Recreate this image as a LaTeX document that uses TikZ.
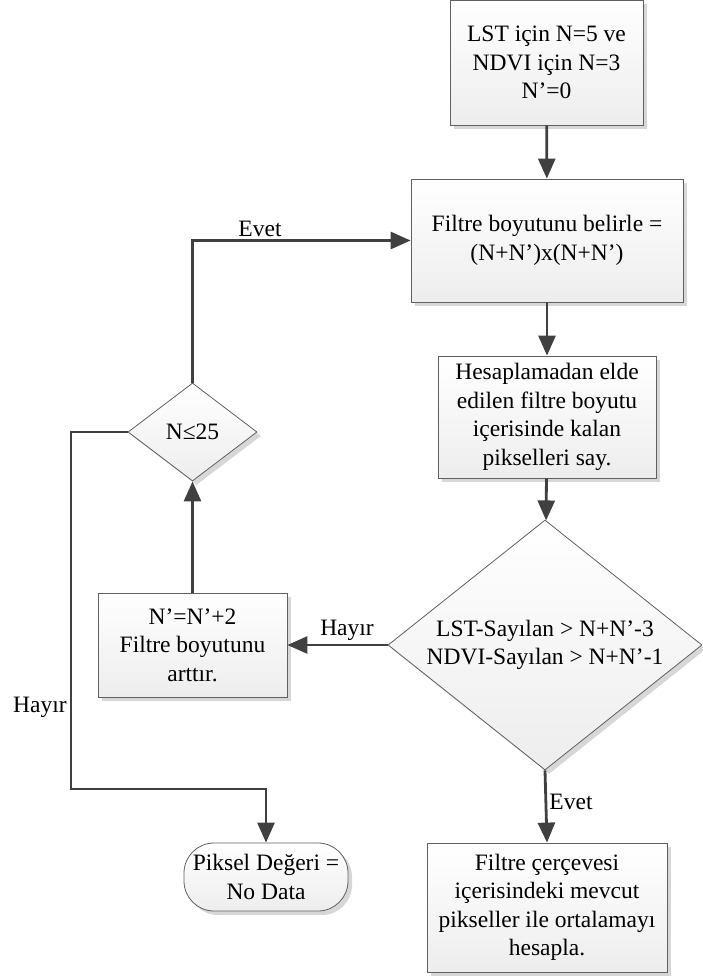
\documentclass[tikz,border=0pt]{standalone}
\usepackage{fontspec}
\setmainfont{Liberation Serif}
\usetikzlibrary{arrows.meta,shapes.geometric,shadows}
\begin{document}
\begin{tikzpicture}[x=1pt,y=-1pt,
  font=\fontsize{23.5}{28.5}\selectfont,
  shad/.style={drop shadow={shadow xshift=4pt, shadow yshift=-4pt, fill=gray!70, opacity=0.45}},
  box/.style={draw=gray!75!black, line width=0.8pt, top color=white, bottom color=gray!14, shad, align=center, inner sep=0pt, rectangle},
  dia/.style={draw=gray!75!black, line width=0.8pt, top color=white, bottom color=gray!14, shad, diamond, inner sep=0pt},
  term/.style={box, rounded corners=30pt},
  conn/.style={draw=black!75, line width=2.8pt, -{Triangle[length=20pt,width=17pt]}},
  lbl/.style={inner sep=0pt}]
\useasboundingbox (0,0) rectangle (702,976);
\node[box, minimum width=193pt, minimum height=125pt] (b1) at (546.5,62.5) {LST için N=5 ve\\NDVI için N=3\\N’=0};
\node[box, minimum width=272pt, minimum height=123pt] (b2) at (547,240.5) {Filtre boyutunu belirle =\\(N+N’)x(N+N’)};
\node[box, minimum width=218pt, minimum height=122pt] (b3) at (547,417) {Hesaplamadan elde\\edilen filtre boyutu\\içerisinde kalan\\pikselleri say.};
\node[dia, minimum width=314pt, minimum height=250pt] (d1) at (545,645) {};
\node[lbl, align=center] (d1t) at (d1.center) {LST-Sayılan > N+N’-3\\NDVI-Sayılan > N+N’-1};
\node[box, minimum width=189pt, minimum height=104pt] (b4) at (192.5,645) {N’=N’+2\\Filtre boyutunu\\arttır.};
\node[dia, minimum width=129pt, minimum height=98pt] (d2) at (192.5,432) {};
\node[lbl] (d2t) at (d2.center) {N≤25};
\node[term, minimum width=164pt, minimum height=68pt] (t) at (266,877) {Piksel Değeri =\\No Data};
\node[box, minimum width=240pt, minimum height=129pt] (b5) at (547,907.5) {Filtre çerçevesi\\içerisindeki mevcut\\pikseller ile ortalamayı\\hesapla.};
\coordinate (c1) at (71,432);
\coordinate (c2) at (71,789);
\draw[conn] (b1) -- (b2);
\draw[conn] (b2) -- (b3);
\draw[conn] (b3) -- (d1);
\draw[conn] (d1.west) -- (b4.east);
\draw[conn] (b4.north) -- (d2.south);
\draw[conn] (d2.north) |- (b2.west);
\draw[conn] (d2.west) -- (c1) -- (c2) -| (t.north);
\draw[conn] (d1.south) -- (b5.north);
\node[lbl] (l1) at (347,630) {Hayır};
\node[lbl] (l2) at (260,229) {Evet};
\node[lbl] (l3) at (40,707) {Hayır};
\node[lbl] (l4) at (571,802) {Evet};
\end{tikzpicture}
\end{document}
